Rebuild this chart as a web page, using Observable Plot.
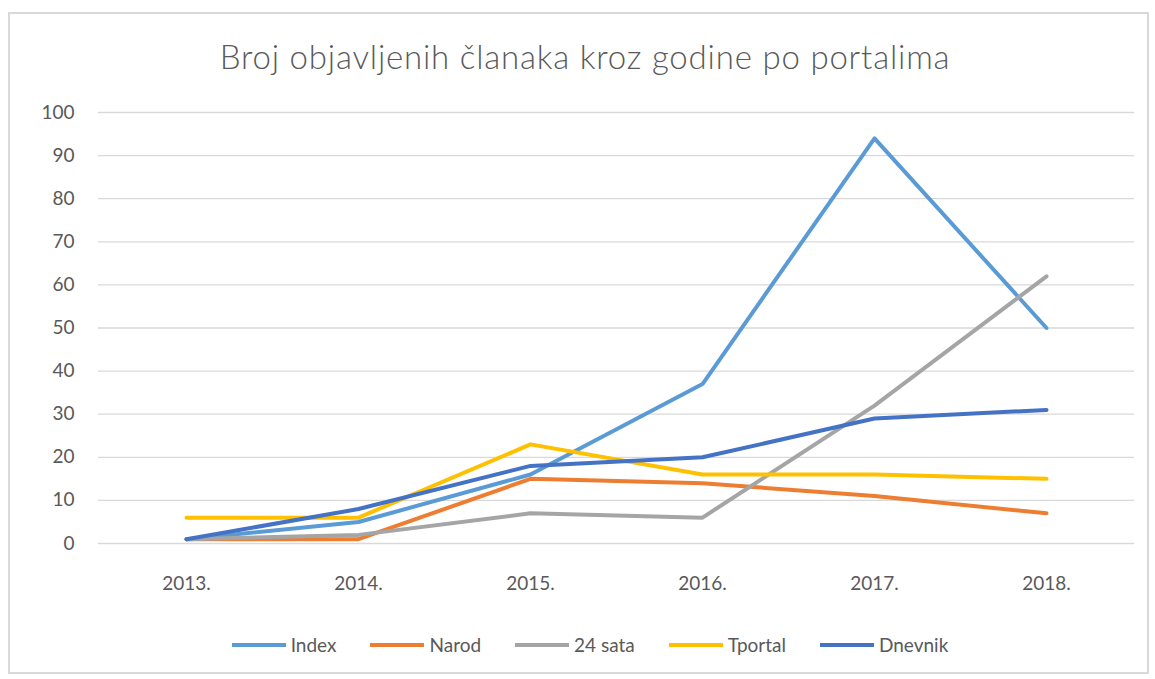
<!DOCTYPE html>
<html>
<head>
<meta charset="utf-8">
<script src="https://cdn.jsdelivr.net/npm/d3@7"></script>
<script src="https://cdn.jsdelivr.net/npm/@observablehq/plot@0.6"></script>
<style>
  html, body { margin: 0; padding: 0; background: #fff; }
  body { width: 1155px; height: 679px; position: relative; overflow: hidden; font-family: Lato, "Open Sans", sans-serif; }
  #frame { position: absolute; left: 8px; top: 12px; width: 1137px; height: 658px; border: 2px solid #d9d9d9; }
  #title { position: absolute; left: 0; width: 1170px; top: 36px; text-align: center; font-size: 33px; font-weight: 300; color: #595959; letter-spacing: 0.8px; }
  #chart { position: absolute; left: 0; top: 90px; }
  #legend { position: absolute; left: 0; width: 1180px; top: 633px; display: flex; justify-content: center; gap: 34px; font-size: 19px; color: #595959; }
  .item { display: flex; align-items: center; }
  .sw { width: 54px; height: 4px; margin-right: 5px; }
</style>
</head>
<body>
<div id="frame"></div>
<div id="title">Broj objavljenih članaka kroz godine po portalima</div>
<div id="chart"></div>
<div id="legend"></div>
<script>
const years = ["2013.", "2014.", "2015.", "2016.", "2017.", "2018."];
const seriesNames = ["Index", "Narod", "24 sata", "Tportal", "Dnevnik"];
const seriesColors = ["#5B9BD5", "#ED7D31", "#A5A5A5", "#FFC000", "#4472C4"];
const index = [1, 5, 16, 37, 94, 50];
const narod = [1, 1, 15, 14, 11, 7];
const sata24 = [1, 2, 7, 6, 32, 62];
const tportal = [6, 6, 23, 16, 16, 15];
const dnevnik = [1, 8, 18, 20, 29, 31];
const yTicks = [0, 10, 20, 30, 40, 50, 60, 70, 80, 90, 100];

const seriesValues = [index, narod, sata24, tportal, dnevnik];
const rows = [];
seriesNames.forEach((name, i) => {
  years.forEach((yr, j) => rows.push({series: name, year: yr, value: seriesValues[i][j]}));
});

const chart = Plot.plot({
  width: 1155,
  height: 520,
  marginLeft: 98,
  marginRight: 21,
  marginTop: 22,
  marginBottom: 67,
  style: {fontFamily: "Lato, 'Open Sans', sans-serif", fontSize: "19px", color: "#595959", background: "transparent"},
  x: {type: "point", domain: years, padding: 0.5, label: null},
  y: {domain: [0, 100], label: null},
  color: {domain: seriesNames, range: seriesColors},
  marks: [
    Plot.gridY(yTicks, {stroke: "#d9d9d9", strokeOpacity: 1, strokeWidth: 1.3}),
    Plot.axisY(yTicks, {tickSize: 0, tickPadding: 24, fill: "#595959", fontSize: 19, label: null}),
    Plot.axisX(years, {tickSize: 0, tickPadding: 33, fill: "#595959", fontSize: 19, label: null}),
    Plot.line(rows, {x: "year", y: "value", z: "series", stroke: "series", strokeWidth: 4, strokeLinecap: "round", strokeLinejoin: "round"})
  ]
});
document.getElementById("chart").appendChild(chart);

const legend = document.getElementById("legend");
seriesNames.forEach((name, i) => {
  const it = document.createElement("div");
  it.className = "item";
  const sw = document.createElement("div");
  sw.className = "sw";
  sw.style.background = seriesColors[i];
  const tx = document.createElement("span");
  tx.textContent = name;
  it.appendChild(sw); it.appendChild(tx);
  legend.appendChild(it);
});
</script>
</body>
</html>
